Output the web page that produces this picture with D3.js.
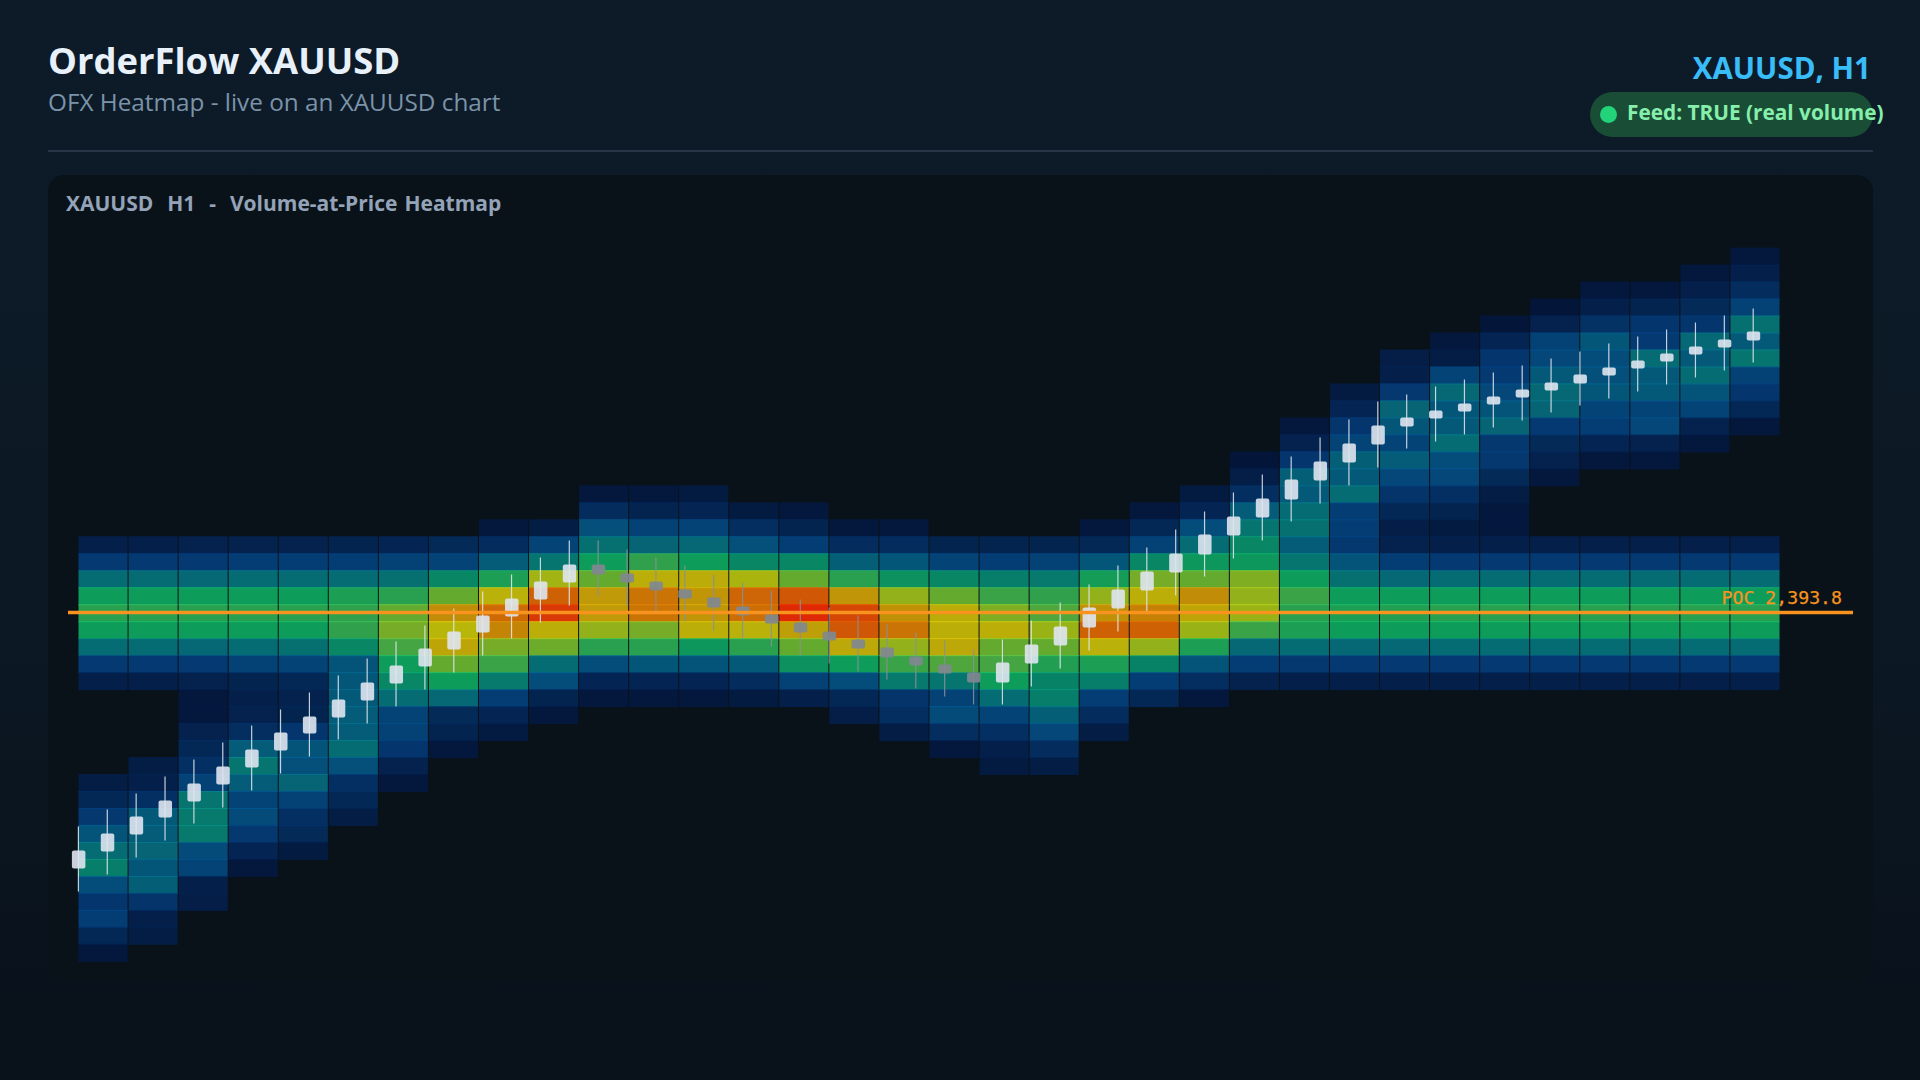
<!DOCTYPE html>
<html><head><meta charset="utf-8">
<style>html,body{margin:0;padding:0;background:#0c1a28;overflow:hidden}svg{display:block}</style>
<script src="https://cdn.jsdelivr.net/npm/d3@7"></script></head>
<body><div id="chart"></div>
<script>
const heatStart=[17,17,17,17,17,17,17,17,16,16,14,14,14,15,15,16,16,17,17,17,16,15,14,12,10,8,6,5,4,3,2,2,1,0];
const n=null;
const heatValues=[
[12,25,40,50,54,50,40,25,12,n,n,n,n,n,10,16,24,33,40,44,31,23,26,16,8],
[12,25,40,50,54,50,40,25,12,n,n,n,n,10,12,20,35,36,38,34,37,22,12,10],
[13,25,39,50,54,50,39,25,13,8,7,13,16,20,27,42,43,43,30,28,12,11],
[13,26,40,50,54,50,40,27,14,12,13,19,36,42,36,28,30,24,15,8],
[13,26,40,50,54,50,41,28,16,13,14,23,33,32,38,27,20,17,9],
[14,26,40,52,55,55,46,33,34,35,36,36,40,32,20,16,10],
[15,27,41,54,60,62,57,50,46,40,28,27,23,13,8],
[17,28,46,60,80,70,75,60,50,39,17,14,8],
[8,18,36,52,71,86,81,62,56,43,26,15,9],
[10,28,42,67,88,96,72,61,40,31,14,8],
[8,18,32,41,50,60,77,77,65,54,31,15,8],
[8,14,27,38,55,72,84,84,62,54,34,15,7],
[9,15,28,39,50,73,78,78,72,49,33,15,7],
[9,19,32,46,68,87,85,71,54,35,18,9],
[7,14,26,46,60,90,100,76,60,48,27,12],
[8,18,37,54,78,93,90,74,50,31,16,11],
[8,18,34,48,65,79,84,65,56,43,22,19,10],
[14,28,46,60,73,72,74,58,42,27,30,19,8],
[14,26,44,56,63,72,60,57,50,40,28,20,12,9],
[14,27,43,55,58,66,60,53,45,44,37,29,18,10],
[8,16,34,51,65,79,88,71,52,44,26,18,10],
[8,16,27,46,62,72,82,88,65,45,26,16],
[9,15,31,40,49,60,80,75,66,52,33,19,8],
[6,11,19,36,42,46,49,63,65,66,56,39,26,13],
[8,13,23,37,35,40,41,36,42,50,56,54,52,40,24,12],
[9,15,23,28,37,35,40,26,26,24,33,41,50,52,50,39,25,12],
[11,12,24,38,34,28,36,29,22,16,11,13,26,39,50,53,50,39,25,12],
[8,10,28,39,34,35,40,31,29,20,14,9,12,25,40,50,54,50,40,25,12],
[6,15,23,25,29,33,38,24,24,17,10,7,7,12,25,40,50,54,50,40,25,12],
[6,13,27,29,35,39,38,25,17,13,8,n,n,n,12,25,40,50,54,50,40,25,12],
[7,12,21,34,31,32,34,28,26,15,8,n,n,n,n,12,25,40,50,54,50,40,25,12],
[7,14,23,25,40,35,35,28,29,13,8,n,n,n,n,12,25,40,50,54,50,40,25,12],
[7,12,17,23,39,35,40,33,28,13,8,n,n,n,n,n,12,25,40,50,54,50,40,25,12],
[7,12,18,27,41,35,42,27,23,16,7,n,n,n,n,n,n,12,25,40,50,54,50,40,25,12]
];
const opens=[2368.2,2369.9,2371.6,2373.3,2374.9,2376.6,2378.3,2380.0,2381.7,2383.3,2385.0,2386.7,2388.4,2390.1,2391.8,2393.4,2395.1,2396.8,
2398.6,2397.7,2396.9,2396.1,2395.3,2394.4,2393.6,2392.8,2391.9,2391.1,2390.3,2389.4,2388.6,2387.8,
2386.8,2388.7,2390.5,2392.3,2394.2,2396.0,2397.8,2399.6,2401.5,2403.3,2405.1,2407.0,2408.8,2410.6,2412.4,2413.2,2413.9,2414.6,2415.3,2416.0,2416.7,2417.5,2418.2,2418.9,2419.6,2420.3,2421.0];
const closes=[2370.0,2371.7,2373.4,2375.0,2376.7,2378.4,2380.1,2381.8,2383.4,2385.1,2386.8,2388.5,2390.2,2391.9,2393.5,2395.2,2396.9,2398.6,
2397.6,2396.8,2396.0,2395.2,2394.3,2393.5,2392.7,2391.8,2391.0,2390.2,2389.3,2388.5,2387.7,2386.8,
2388.8,2390.6,2392.4,2394.3,2396.1,2397.9,2399.7,2401.6,2403.4,2405.2,2407.1,2408.9,2410.7,2412.5,2413.3,2414.0,2414.7,2415.4,2416.1,2416.8,2417.6,2418.3,2419.0,2419.7,2420.4,2421.1,2421.9];
const highs=[2372.4,2374.1,2375.7,2377.4,2379.1,2380.8,2382.5,2384.1,2385.8,2387.5,2389.2,2390.9,2392.5,2394.2,2395.9,2397.6,2399.3,2401.0,
2401.0,2400.1,2399.3,2398.5,2397.6,2396.8,2396.0,2395.1,2394.3,2393.5,2392.6,2391.8,2391.0,2390.1,
2391.1,2393.0,2394.8,2396.6,2398.5,2400.3,2402.1,2403.9,2405.8,2407.6,2409.4,2411.3,2413.1,2414.9,2415.6,2416.4,2417.1,2417.8,2418.5,2419.2,2419.9,2420.7,2421.4,2422.1,2422.8,2423.5,2424.2];
const lows=[2365.9,2367.6,2369.3,2371.0,2372.7,2374.3,2376.0,2377.7,2379.4,2381.1,2382.7,2384.4,2386.1,2387.8,2389.5,2391.2,2392.8,2394.5,
2395.4,2394.5,2393.9,2392.9,2392.0,2391.2,2390.4,2389.5,2388.7,2387.9,2387.1,2386.2,2385.4,2384.6,
2384.6,2386.4,2388.2,2390.0,2391.9,2393.9,2395.5,2397.4,2399.2,2401.0,2402.9,2404.7,2406.5,2408.3,2410.2,2410.9,2411.6,2412.3,2413.0,2413.8,2414.5,2415.2,2415.9,2416.6,2417.3,2418.0,2418.8];
const pocPrice=2393.8;
const titleText="OrderFlow XAUUSD", subtitleText="OFX Heatmap - live on an XAUUSD chart";
const symbolText="XAUUSD, H1", feedText="Feed: TRUE (real volume)";
const panelText="XAUUSD  H1  -  Volume-at-Price Heatmap";

const levelDomain=[0,6,12,18,25,31,36,40,45,50,55,60,65,70,75,80,85,90,95,100];
const levelRange=["#04133a","#05163a","#05204a","#052c5c","#053a72","#054e7c","#055c78","#066c74","#088268","#0e9c5a","#30a04e","#64aa30","#92b21a","#bab60a","#bea508","#c28c08","#cc6e06","#d05805","#d83e05","#e02805"];
const BG=d3.rgb("#0a1219");

const W=1920,H=1080;
const svg=d3.select("#chart").append("svg").attr("width",W).attr("height",H);
const defs=svg.append("defs");
const grad=defs.append("linearGradient").attr("id","pg").attr("x1",0).attr("y1",0).attr("x2",0).attr("y2",1);
grad.append("stop").attr("offset","0%").attr("stop-color","#0d1b29");
grad.append("stop").attr("offset","50%").attr("stop-color","#0c1925");
grad.append("stop").attr("offset","100%").attr("stop-color","#09111a");
svg.append("rect").attr("width",W).attr("height",H).attr("fill","url(#pg)");

const sans="'Open Sans',sans-serif";
svg.append("text").attr("x",48).attr("y",74).attr("font-family",sans).attr("font-size",36.4).attr("font-weight",700).attr("fill","#e8f1fa").text(titleText);
svg.append("text").attr("x",48).attr("y",111).attr("font-family",sans).attr("font-size",24.3).attr("font-weight",400).attr("fill","#7b93a8").text(subtitleText);
svg.append("text").attr("x",1871).attr("y",79).attr("text-anchor","end").attr("font-family",sans).attr("font-size",29.5).attr("font-weight",700).attr("fill","#38bdf8").text(symbolText);
svg.append("rect").attr("x",1590).attr("y",92).attr("width",283).attr("height",45).attr("rx",22.5).attr("fill","#194d35");
svg.append("circle").attr("cx",1608.5).attr("cy",114.5).attr("r",8.5).attr("fill","#22d37a");
svg.append("text").attr("x",1627).attr("y",120).attr("font-family",sans).attr("font-size",20.8).attr("font-weight",700).attr("fill","#86efac").text(feedText);
svg.append("line").attr("x1",48).attr("x2",1873).attr("y1",151).attr("y2",151).attr("stroke","#263545").attr("stroke-width",2);
svg.append("rect").attr("x",48).attr("y",175).attr("width",1825).attr("height",806).attr("rx",16).attr("fill","#0a1219");
svg.append("text").attr("x",66).attr("y",211).attr("xml:space","preserve").style("white-space","pre").attr("word-spacing",1.5).attr("font-family",sans).attr("font-size",21).attr("font-weight",700).attr("fill","#94a3b8").text(panelText);

const colX=d3.scaleBand().domain(d3.range(heatValues.length)).range([78.5,1780.5]);
const rowY=d3.scaleBand().domain(d3.range(42)).range([247.6,960.8]);
const levelColor=d3.scaleLinear().domain(levelDomain).range(levelRange).interpolate(d3.interpolateRgb);
const alphaScale=d3.scaleLinear().domain([0,60,100]).range([.75,.78,.93]);
function srcColor(v){
  const c=d3.rgb(levelColor(v)),a=alphaScale(v);
  const f=(x,b)=>Math.max(0,Math.min(255,(x-(1-a)*b)/a));
  return d3.rgb(f(c.r,BG.r),f(c.g,BG.g),f(c.b,BG.b)).formatRgb();
}
const cells=[];
heatValues.forEach((col,j)=>col.forEach((v,i)=>{if(v!==null)cells.push({j,k:heatStart[j]+i,v});}));
svg.append("g").selectAll("rect").data(cells).join("rect")
 .attr("x",d=>colX(d.j)).attr("y",d=>rowY(d.k))
 .attr("width",colX.bandwidth()-1).attr("height",rowY.bandwidth()+1)
 .attr("fill",d=>srcColor(d.v)).attr("fill-opacity",d=>alphaScale(d.v));

const priceY=d3.scaleLinear().domain([2455.05,2355.05]).range([0,1000]);
const candleX=d3.scaleLinear().domain([0,58]).range([78.4,1753.2]);
const idx=d3.range(opens.length);
const up=i=>closes[i]>=opens[i];
const cg=svg.append("g");
cg.selectAll("line").data(idx).join("line")
 .attr("x1",candleX).attr("x2",candleX).attr("y1",i=>priceY(highs[i])).attr("y2",i=>priceY(lows[i]))
 .attr("stroke",i=>up(i)?"#dfe6ee":"#8a9196").attr("stroke-width",1.2).attr("stroke-opacity",.88);
cg.selectAll("rect").data(idx).join("rect")
 .attr("x",i=>candleX(i)-6.5).attr("width",13.5)
 .attr("y",i=>priceY(Math.max(opens[i],closes[i]))).attr("height",i=>Math.abs(priceY(opens[i])-priceY(closes[i])))
 .attr("rx",2).attr("fill",i=>up(i)?"#dfe6ef":"#808890").attr("fill-opacity",i=>up(i)?.9:.92);

svg.append("line").attr("x1",68).attr("x2",1853).attr("y1",priceY(pocPrice)).attr("y2",priceY(pocPrice)).attr("stroke","#f7931e").attr("stroke-width",3.5);
svg.append("text").attr("x",1842).attr("y",priceY(pocPrice)-8.5).attr("text-anchor","end").attr("font-family","'DejaVu Sans Mono',monospace").attr("font-size",18.2).attr("fill","#f7931e").attr("stroke","#f7931e").attr("stroke-width",0.25).text("POC "+d3.format(",.1f")(pocPrice));
</script></body></html>
